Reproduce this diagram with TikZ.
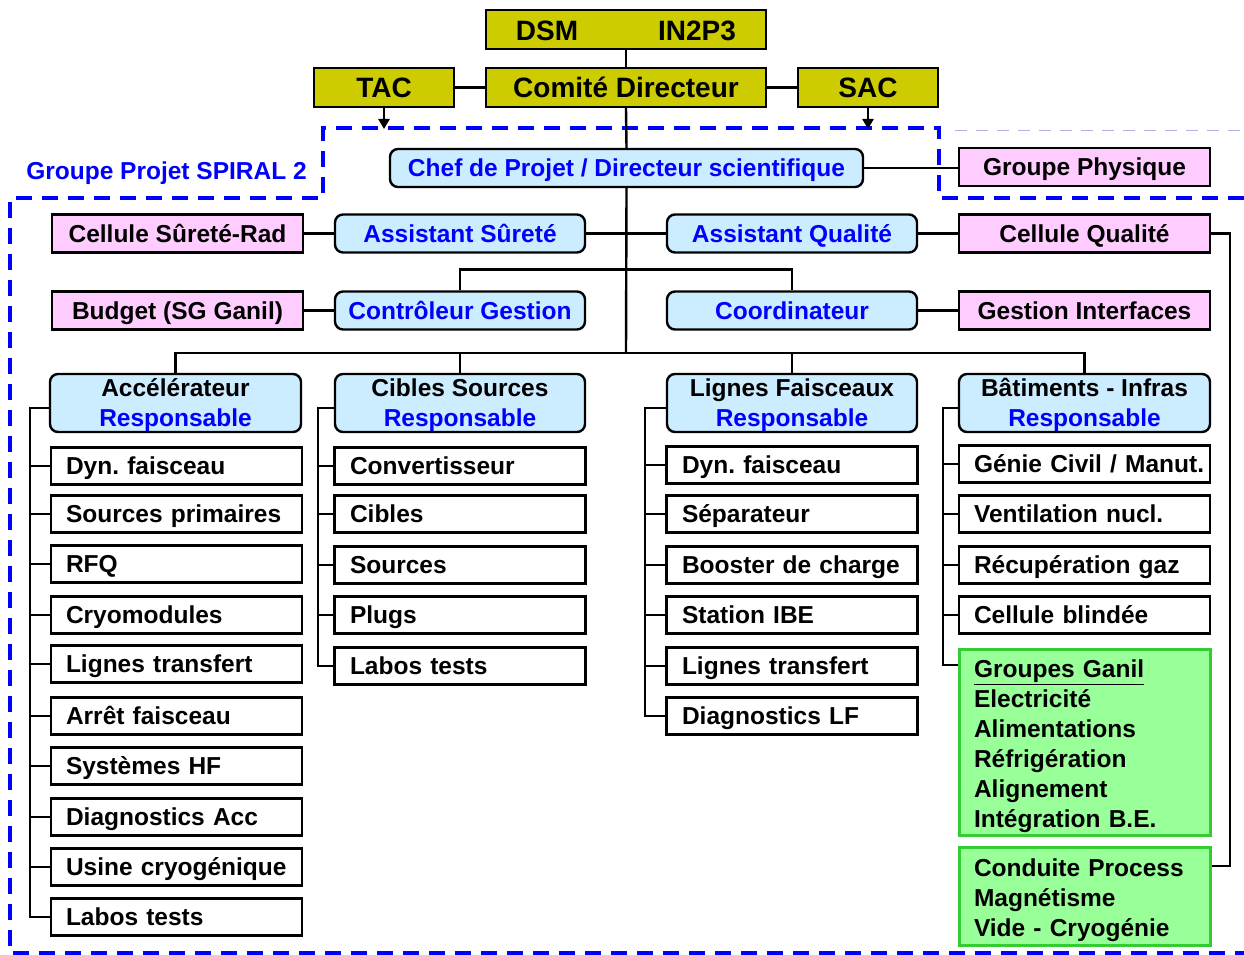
\documentclass[tikz,border=0pt]{standalone}
\usepackage{fontspec}
\setmainfont{Liberation Sans}
\usetikzlibrary{arrows.meta}
\definecolor{olivebox}{RGB}{204,204,0}
\definecolor{pinkfill}{RGB}{255,204,255}
\definecolor{lightblue}{RGB}{204,236,255}
\definecolor{greenfill}{RGB}{153,255,153}
\definecolor{greenedge}{RGB}{51,204,51}
\definecolor{dblue}{RGB}{0,0,255}
\definecolor{thindash}{RGB}{175,175,235}
\frenchspacing
\begin{document}
\begin{tikzpicture}[x=1pt,y=-1pt,
  every node/.style={font=\fontsize{24.5}{30}\selectfont\bfseries, inner sep=0pt},
  bx/.style={draw=black, line width=2.4pt, minimum width=251pt, minimum height=38pt},
  one/.style={text height=17.5pt, text depth=0pt},
  topbox/.style={bx, fill=olivebox, minimum height=39pt, font=\fontsize{28}{32}\selectfont\bfseries, text height=20pt, text depth=0pt},
  toplabel/.style={font=\fontsize{28}{32}\selectfont\bfseries, text height=20pt, text depth=0pt},
  pbox/.style={bx, one, fill=pinkfill},
  bbox/.style={bx, one, fill=lightblue, rounded corners=8pt, text=dblue},
  headbox/.style={bx, fill=lightblue, rounded corners=8pt, minimum height=58pt, align=center},
  itm/.style={bx, one, fill=white, minimum height=37pt, text width=221pt, align=left, inner xsep=15pt},
  gbox/.style={draw=greenedge, line width=3pt, fill=greenfill, text width=221pt, align=left, inner xsep=15pt, minimum width=251pt},
  conn/.style={line width=2.4pt, black},
  dashblue/.style={line width=4pt, dblue, dash pattern=on 16pt off 10pt},
  arr/.style={conn, -{Triangle[length=10pt,width=11pt]}}
]
\useasboundingbox (0,0) rectangle (1244,955);

% dashed project region
\draw[thindash, line width=1pt, dash pattern=on 12pt off 9pt] (955,131) -- (1244,131);
\draw[dashblue] (1244,198) -- (939,198) -- (939,128) -- (323,128) -- (323,198) -- (10,198) -- (10,953) -- (1244,953);

% top
\node[topbox, minimum width=280pt] (dsm) at (626,29.5) {};
\node[toplabel] (dsmt) at (547,30.5) {DSM};
\node[toplabel] (in2p3t) at (697,30.5) {IN2P3};
\node[topbox, minimum width=140pt] (tac) at (384,87.5) {TAC};
\node[topbox, minimum width=280pt] (cd) at (626,87.5) {Comité Directeur};
\node[topbox, minimum width=140pt] (sac) at (868,87.5) {SAC};

\node[bbox, minimum width=473pt] (chef) at (626.5,168) {Chef de Projet / Directeur scientifique};
\node[pbox] (gphys) at (1084.5,167) {Groupe Physique};
\node[one, text=dblue] (gps) at (166.5,171) {Groupe Projet SPIRAL 2};

% row 2
\node[pbox] (csr) at (177.5,233.5) {Cellule Sûreté-Rad};
\node[bbox, minimum width=250pt] (as) at (460,233.5) {Assistant Sûreté};
\node[bbox, minimum width=250pt] (aq) at (792,233.5) {Assistant Qualité};
\node[pbox] (cq) at (1084.5,233.5) {Cellule Qualité};

% row 3
\node[pbox] (bud) at (177.5,310.5) {Budget (SG Ganil)};
\node[bbox, minimum width=250pt] (cg) at (460,310.5) {Contrôleur Gestion};
\node[bbox, minimum width=250pt] (coord) at (792,310.5) {Coordinateur};
\node[pbox] (gi) at (1084.5,310.5) {Gestion Interfaces};

% heads
\node[headbox] (acc) at (175.5,403) {\rule{0pt}{22pt}Accélérateur\\\textcolor{dblue}{Responsable}};
\node[headbox, minimum width=250pt] (cib) at (460,403) {\rule{0pt}{22pt}Cibles Sources\\\textcolor{dblue}{Responsable}};
\node[headbox, minimum width=250pt] (lig) at (792,403) {\rule{0pt}{22pt}Lignes Faisceaux\\\textcolor{dblue}{Responsable}};
\node[headbox] (bat) at (1084.5,403) {\rule{0pt}{22pt}Bâtiments - Infras\\\textcolor{dblue}{Responsable}};

% column 1
\node[itm] (a1) at (176.5,466) {Dyn. faisceau};
\node[itm] (a2) at (176.5,514) {Sources primaires};
\node[itm] (a3) at (176.5,564) {RFQ};
\node[itm] (a4) at (176.5,615) {Cryomodules};
\node[itm] (a5) at (176.5,664) {Lignes transfert};
\node[itm] (a6) at (176.5,716) {Arrêt faisceau};
\node[itm] (a7) at (176.5,766) {Systèmes HF};
\node[itm] (a8) at (176.5,817) {Diagnostics Acc};
\node[itm] (a9) at (176.5,867) {Usine cryogénique};
\node[itm] (a10) at (176.5,917) {Labos tests};

% column 2
\node[itm, text width=220pt] (b1) at (460,466) {Convertisseur};
\node[itm, text width=220pt] (b2) at (460,514) {Cibles};
\node[itm, text width=220pt] (b3) at (460,565) {Sources};
\node[itm, text width=220pt] (b4) at (460,615) {Plugs};
\node[itm, text width=220pt] (b5) at (460,666) {Labos tests};

% column 3
\node[itm, text width=220pt] (c1) at (792,465) {Dyn. faisceau};
\node[itm, text width=220pt] (c2) at (792,514) {Séparateur};
\node[itm, text width=220pt] (c3) at (792,565) {Booster de charge};
\node[itm, text width=220pt] (c4) at (792,615) {Station IBE};
\node[itm, text width=220pt] (c5) at (792,666) {Lignes transfert};
\node[itm, text width=220pt] (c6) at (792,716) {Diagnostics LF};

% column 4
\node[itm] (d1) at (1084.5,464) {\mbox{Génie Civil / Manut.}};
\node[itm] (d2) at (1084.5,514) {Ventilation nucl.};
\node[itm] (d3) at (1084.5,565) {Récupération gaz};
\node[itm] (d4) at (1084.5,615) {Cellule blindée};
\node[gbox, minimum height=186pt] (g1) at (1084.5,742) {\rule{0pt}{26pt}\underline{Groupes Ganil}\\Electricité\\Alimentations\\Réfrigération\\Alignement\\Intégration B.E.};
\node[gbox, minimum height=98pt] (g2) at (1084.5,896) {\rule{0pt}{26pt}Conduite Process\\Magnétisme\\Vide - Cryogénie};

% connectors top
\draw[conn] (dsm.south) -- (cd.north);
\draw[conn] (tac.east) -- (cd.west);
\draw[conn] (cd.east) -- (sac.west);
\coordinate (dtop) at (0,129);
\draw[arr] (tac.south) -- (tac.south |- dtop);
\draw[arr] (sac.south) -- (sac.south |- dtop);
\draw[conn] (cd.south) -- (chef.north);
\draw[conn] (chef.east) -- (chef.east -| gphys.west);

% main spine
\coordinate (hb) at (626,353);
\draw[conn] (chef.south) -- (hb);
\draw[conn] (csr.east) -- (as.west);
\draw[conn] (as.east) -- (aq.west);
\draw[conn] (aq.east) -- (cq.west);
\draw[conn] (cg.north) -- ++(0,21pt) -| (coord.north);
\draw[conn] (bud.east) -- (cg.west);
\draw[conn] (coord.east) -- (gi.west);
\draw[conn] (acc.north) -- (acc.north |- hb) -- (bat.north |- hb) -- (bat.north);
\draw[conn] (cib.north) -- (cib.north |- hb);
\draw[conn] (lig.north) -- (lig.north |- hb);

% Cellule Qualite to Conduite Process
\coordinate (rq) at (1230,233.5);
\draw[conn] (cq.east) -- (rq) |- ([yshift=30pt]g2.east);

% column spines
\coordinate (s1) at (30,408);
\coordinate (s2) at (318,408);
\coordinate (s3) at (645,408);
\coordinate (s4) at (943,408);
\draw[conn] (acc.west |- s1) -- (s1) |- (a10.west);
\foreach \i in {1,...,9} \draw[conn] (s1 |- a\i.west) -- (a\i.west);
\draw[conn] (cib.west |- s2) -- (s2) |- (b5.west);
\foreach \i in {1,...,4} \draw[conn] (s2 |- b\i.west) -- (b\i.west);
\draw[conn] (lig.west |- s3) -- (s3) |- (c6.west);
\foreach \i in {1,...,5} \draw[conn] (s3 |- c\i.west) -- (c\i.west);
\draw[conn] (bat.west |- s4) -- (s4) |- ([yshift=77pt]g1.west);
\foreach \i in {1,...,4} \draw[conn] (s4 |- d\i.west) -- (d\i.west);
\end{tikzpicture}
\end{document}
